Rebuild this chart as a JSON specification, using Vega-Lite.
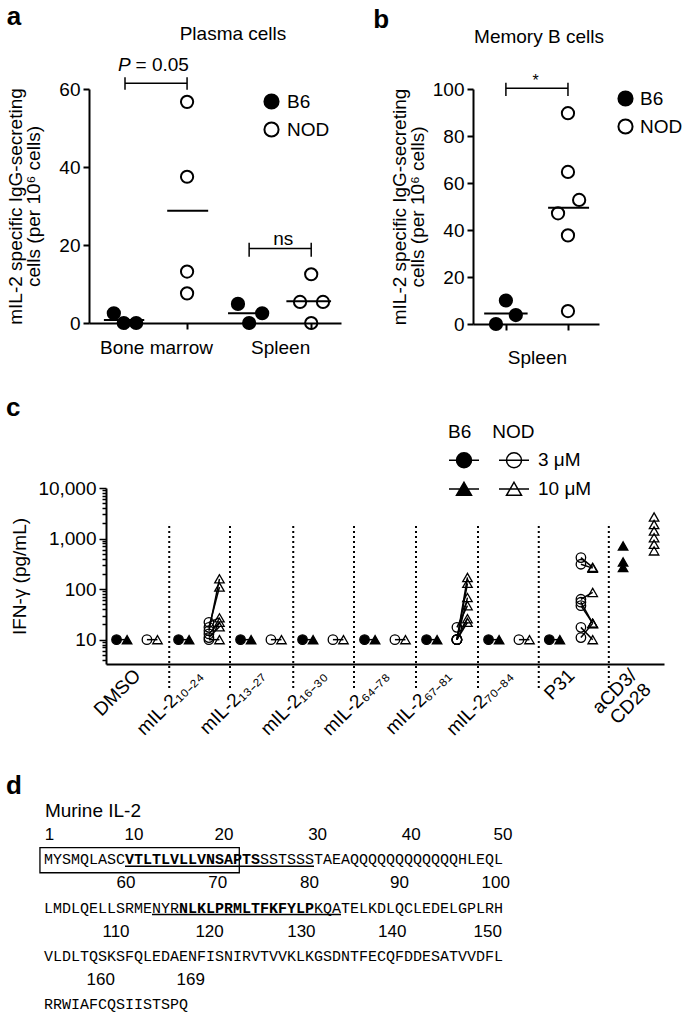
{
  "$schema": "https://vega.github.io/schema/vega-lite/v6.json",
  "background": "white",
  "padding": {"left": 5, "top": 3, "right": 5, "bottom": 2},
  "config": {
    "font": "Liberation Sans",
    "view": {"stroke": null},
    "axis": {"domainColor": "black", "domainWidth": 2, "tickColor": "black", "tickWidth": 2, "labelColor": "black", "titleColor": "black", "labelFontSize": 19, "titleFontSize": 19, "titleFontWeight": "normal", "grid": false, "labelFont": "Liberation Sans", "titleFont": "Liberation Sans"},
    "legend": {"labelFontSize": 19, "titleFontSize": 19, "labelColor": "black", "titleColor": "black", "titleFontWeight": "normal", "labelFont": "Liberation Sans", "titleFont": "Liberation Sans"},
    "title": {"fontSize": 19, "fontWeight": "normal", "color": "black", "font": "Liberation Sans"}
  },
  "datasets": {
    "pa": [
      {"strain": "B6", "x": 0.82, "v": 2.5},
      {"strain": "B6", "x": 0.98, "v": 0},
      {"strain": "B6", "x": 1.18, "v": 0},
      {"strain": "NOD", "x": 2, "v": 56.7},
      {"strain": "NOD", "x": 2, "v": 37.5},
      {"strain": "NOD", "x": 2, "v": 13.2},
      {"strain": "NOD", "x": 2, "v": 7.6},
      {"strain": "B6", "x": 2.82, "v": 4.9},
      {"strain": "B6", "x": 3.0, "v": 0},
      {"strain": "B6", "x": 3.21, "v": 2.5},
      {"strain": "NOD", "x": 3.82, "v": 5.4},
      {"strain": "NOD", "x": 4.0, "v": 12.5},
      {"strain": "NOD", "x": 4.0, "v": 0},
      {"strain": "NOD", "x": 4.19, "v": 5.4}
    ],
    "pa_mean": [
      {"x1": 0.66, "x2": 1.31, "m": 0.8},
      {"x1": 1.68, "x2": 2.34, "m": 28.8},
      {"x1": 2.66, "x2": 3.32, "m": 2.5},
      {"x1": 3.6, "x2": 4.32, "m": 5.6}
    ],
    "pa_br": [
      {"x1": 1, "x2": 2, "y1": 61.5, "y2": 61.5},
      {"x1": 1, "x2": 1, "y1": 59.8, "y2": 63},
      {"x1": 2, "x2": 2, "y1": 59.8, "y2": 63},
      {"x1": 3, "x2": 4, "y1": 19.1, "y2": 19.1},
      {"x1": 3, "x2": 3, "y1": 17, "y2": 20.6},
      {"x1": 4, "x2": 4, "y1": 17, "y2": 20.6}
    ],
    "pa_txt": [
      {"t": "P", "x": 0.99, "y": 64.7, "it": true},
      {"t": "= 0.05", "x": 1.6, "y": 64.7, "it": false},
      {"t": "ns", "x": 3.55, "y": 20, "it": false}
    ],
    "pb": [
      {"strain": "B6", "x": 1.0, "v": 10},
      {"strain": "B6", "x": 0.84, "v": 0},
      {"strain": "B6", "x": 1.16, "v": 3.8},
      {"strain": "NOD", "x": 2, "v": 89.7},
      {"strain": "NOD", "x": 2, "v": 64.7},
      {"strain": "NOD", "x": 2.18, "v": 52.8},
      {"strain": "NOD", "x": 1.84, "v": 47.1},
      {"strain": "NOD", "x": 2, "v": 37.7},
      {"strain": "NOD", "x": 2, "v": 5.5}
    ],
    "pb_mean": [
      {"x1": 0.65, "x2": 1.35, "m": 4.5},
      {"x1": 1.68, "x2": 2.34, "m": 49.5}
    ],
    "pb_br": [
      {"x1": 1, "x2": 2, "y1": 100.3, "y2": 100.3},
      {"x1": 1, "x2": 1, "y1": 97, "y2": 102.7},
      {"x1": 2, "x2": 2, "y1": 97, "y2": 102.7}
    ],
    "pb_txt": [{"t": "*", "x": 1.48, "y": 101.3}],
    "sep": [{"x": 1.52}, {"x": 2.5}, {"x": 3.52}, {"x": 4.5}, {"x": 5.5}, {"x": 6.5}, {"x": 7.48}, {"x": 8.61}],
    "pc": [
      {"s": "B6 3 μM", "x": 0.67, "v": 10, "p": "1B"}, {"s": "B6 10 μM", "x": 0.84, "v": 10, "p": "1B"},
      {"s": "NOD 3 μM", "x": 1.16, "v": 10, "p": "1N"}, {"s": "NOD 10 μM", "x": 1.33, "v": 10, "p": "1N"},
      {"s": "B6 3 μM", "x": 1.67, "v": 10, "p": "2B"}, {"s": "B6 10 μM", "x": 1.84, "v": 10, "p": "2B"},
      {"s": "NOD 3 μM", "x": 2.16, "v": 10, "p": "2N1"}, {"s": "NOD 10 μM", "x": 2.33, "v": 10, "p": "2N1"},
      {"s": "NOD 3 μM", "x": 2.16, "v": 11, "p": "2N2"}, {"s": "NOD 10 μM", "x": 2.33, "v": 18, "p": "2N2"},
      {"s": "NOD 3 μM", "x": 2.16, "v": 15, "p": "2N3"}, {"s": "NOD 10 μM", "x": 2.33, "v": 160, "p": "2N3"},
      {"s": "NOD 3 μM", "x": 2.16, "v": 17.5, "p": "2N4"}, {"s": "NOD 10 μM", "x": 2.33, "v": 110, "p": "2N4"},
      {"s": "NOD 3 μM", "x": 2.16, "v": 22, "p": "2N5"}, {"s": "NOD 10 μM", "x": 2.33, "v": 27, "p": "2N5"},
      {"s": "NOD 3 μM", "x": 2.16, "v": 13, "p": "2N6"}, {"s": "NOD 10 μM", "x": 2.33, "v": 22, "p": "2N6"},
      {"s": "B6 3 μM", "x": 2.67, "v": 10, "p": "3B"}, {"s": "B6 10 μM", "x": 2.84, "v": 10, "p": "3B"},
      {"s": "NOD 3 μM", "x": 3.16, "v": 10, "p": "3N"}, {"s": "NOD 10 μM", "x": 3.33, "v": 10, "p": "3N"},
      {"s": "B6 3 μM", "x": 3.67, "v": 10, "p": "4B"}, {"s": "B6 10 μM", "x": 3.84, "v": 10, "p": "4B"},
      {"s": "NOD 3 μM", "x": 4.16, "v": 10, "p": "4N"}, {"s": "NOD 10 μM", "x": 4.33, "v": 10, "p": "4N"},
      {"s": "B6 3 μM", "x": 4.67, "v": 10, "p": "5B"}, {"s": "B6 10 μM", "x": 4.84, "v": 10, "p": "5B"},
      {"s": "NOD 3 μM", "x": 5.16, "v": 10, "p": "5N"}, {"s": "NOD 10 μM", "x": 5.33, "v": 10, "p": "5N"},
      {"s": "B6 3 μM", "x": 5.67, "v": 10, "p": "6B"}, {"s": "B6 10 μM", "x": 5.84, "v": 10, "p": "6B"},
      {"s": "NOD 3 μM", "x": 6.16, "v": 10, "p": "6N1"}, {"s": "NOD 10 μM", "x": 6.33, "v": 170, "p": "6N1"},
      {"s": "NOD 3 μM", "x": 6.16, "v": 10, "p": "6N2"}, {"s": "NOD 10 μM", "x": 6.33, "v": 130, "p": "6N2"},
      {"s": "NOD 3 μM", "x": 6.16, "v": 10, "p": "6N3"}, {"s": "NOD 10 μM", "x": 6.33, "v": 68, "p": "6N3"},
      {"s": "NOD 3 μM", "x": 6.16, "v": 17.5, "p": "6N4"}, {"s": "NOD 10 μM", "x": 6.33, "v": 47, "p": "6N4"},
      {"s": "NOD 3 μM", "x": 6.16, "v": 10, "p": "6N5"}, {"s": "NOD 10 μM", "x": 6.33, "v": 26, "p": "6N5"},
      {"s": "NOD 3 μM", "x": 6.16, "v": 10, "p": "6N6"}, {"s": "NOD 10 μM", "x": 6.33, "v": 22, "p": "6N6"},
      {"s": "B6 3 μM", "x": 6.67, "v": 10, "p": "7B"}, {"s": "B6 10 μM", "x": 6.84, "v": 10, "p": "7B"},
      {"s": "NOD 3 μM", "x": 7.16, "v": 10, "p": "7N"}, {"s": "NOD 10 μM", "x": 7.33, "v": 10, "p": "7N"},
      {"s": "B6 3 μM", "x": 7.65, "v": 10, "p": "8B"}, {"s": "B6 10 μM", "x": 7.82, "v": 10, "p": "8B"},
      {"s": "NOD 3 μM", "x": 8.16, "v": 420, "p": "8N1"}, {"s": "NOD 10 μM", "x": 8.35, "v": 270, "p": "8N1"},
      {"s": "NOD 3 μM", "x": 8.16, "v": 310, "p": "8N2"}, {"s": "NOD 10 μM", "x": 8.35, "v": 260, "p": "8N2"},
      {"s": "NOD 3 μM", "x": 8.16, "v": 63, "p": "8N3"}, {"s": "NOD 10 μM", "x": 8.35, "v": 86, "p": "8N3"},
      {"s": "NOD 3 μM", "x": 8.16, "v": 55, "p": "8N4"}, {"s": "NOD 10 μM", "x": 8.35, "v": 21, "p": "8N4"},
      {"s": "NOD 3 μM", "x": 8.16, "v": 47, "p": "8N5"}, {"s": "NOD 10 μM", "x": 8.35, "v": 21, "p": "8N5"},
      {"s": "NOD 3 μM", "x": 8.16, "v": 17.5, "p": "8N6"}, {"s": "NOD 10 μM", "x": 8.35, "v": 10, "p": "8N6"},
      {"s": "NOD 3 μM", "x": 8.16, "v": 11, "p": "8N7"}, {"s": "NOD 10 μM", "x": 8.35, "v": 21, "p": "8N7"},
      {"s": "B6 10 μM", "x": 8.84, "v": 714, "p": "9B1"},
      {"s": "B6 10 μM", "x": 8.84, "v": 345, "p": "9B2"},
      {"s": "B6 10 μM", "x": 8.84, "v": 267, "p": "9B3"},
      {"s": "NOD 10 μM", "x": 9.34, "v": 2670, "p": "9N1"},
      {"s": "NOD 10 μM", "x": 9.34, "v": 1900, "p": "9N2"},
      {"s": "NOD 10 μM", "x": 9.34, "v": 1410, "p": "9N3"},
      {"s": "NOD 10 μM", "x": 9.34, "v": 1040, "p": "9N4"},
      {"s": "NOD 10 μM", "x": 9.34, "v": 770, "p": "9N5"},
      {"s": "NOD 10 μM", "x": 9.34, "v": 570, "p": "9N6"}
    ],
    "dd": [
      {"row": 0, "x": 0.1, "t": "Murine IL-2", "k": "head"},
      {"row": 1, "x": 0.6, "t": "1", "k": "num"},
      {"row": 1, "x": 10.0, "t": "10", "k": "num"},
      {"row": 1, "x": 20.0, "t": "20", "k": "num"},
      {"row": 1, "x": 30.4, "t": "30", "k": "num"},
      {"row": 1, "x": 40.8, "t": "40", "k": "num"},
      {"row": 1, "x": 51.0, "t": "50", "k": "num"},
      {"row": 2, "x": 0, "t": "MYSMQLASC", "k": "seq"},
      {"row": 2, "x": 9, "t": "VTLTLVLLVNSAPTS", "k": "bold"},
      {"row": 2, "x": 24, "t": "SSTSSSTAEAQQQQQQQQQQQQHLEQL", "k": "seq"},
      {"row": 3, "x": 9.1, "t": "60", "k": "num"},
      {"row": 3, "x": 19.3, "t": "70", "k": "num"},
      {"row": 3, "x": 29.5, "t": "80", "k": "num"},
      {"row": 3, "x": 39.5, "t": "90", "k": "num"},
      {"row": 3, "x": 50.2, "t": "100", "k": "num"},
      {"row": 4, "x": 0, "t": "LMDLQELLSRMENYR", "k": "seq"},
      {"row": 4, "x": 15, "t": "NLKLPRMLTFKFYLP", "k": "bold"},
      {"row": 4, "x": 30, "t": "KQATELKDLQCLEDELGPLRH", "k": "seq"},
      {"row": 5, "x": 8.0, "t": "110", "k": "num"},
      {"row": 5, "x": 18.4, "t": "120", "k": "num"},
      {"row": 5, "x": 28.6, "t": "130", "k": "num"},
      {"row": 5, "x": 38.7, "t": "140", "k": "num"},
      {"row": 5, "x": 49.3, "t": "150", "k": "num"},
      {"row": 6, "x": 0, "t": "VLDLTQSKSFQLEDAENFISNIRVTVVKLKGSDNTFECQFDDESATVVDFL", "k": "seq"},
      {"row": 7, "x": 6.3, "t": "160", "k": "num"},
      {"row": 7, "x": 16.3, "t": "169", "k": "num"},
      {"row": 8, "x": 0, "t": "RRWIAFCQSIISTSPQ", "k": "seq"}
    ],
    "du": [{"row": 2, "x": 9, "x2": 30}, {"row": 4, "x": 12, "x2": 33}],
    "db": [{"x": -0.45, "x2": 21.7, "y": 1.52, "y2": 2.56}]
  },
  "vconcat": [
    {
      "vconcat": [
        {
          "hconcat": [
            {
              "title": {"text": "a", "anchor": "start", "fontSize": 26, "fontWeight": "bold", "offset": -26, "baseline": "alphabetic"},
              "vconcat": [
                {
                  "title": {"text": "Plasma cells", "frame": "group", "anchor": "middle", "dx": 18, "offset": -3, "baseline": "alphabetic"},
                  "width": 252,
                  "height": 234,
                  "layer": [
                    {
                      "data": {"name": "pa_mean"},
                      "mark": {"type": "rule", "strokeWidth": 2, "color": "black"},
                      "encoding": {
                        "x": {"field": "x1", "type": "quantitative", "scale": {"domain": [0.42, 4.48], "nice": false, "zero": false},
                          "axis": {"values": [1, 1.5, 2, 3, 3.5, 4], "labelExpr": "datum.value == 1.5 ? 'Bone marrow' : datum.value == 3.5 ? 'Spleen' : ''",
                            "tickOpacity": {"condition": {"test": "datum.value == 1.5 || datum.value == 3.5", "value": 0}, "value": 1},
                            "title": null, "tickSize": 6, "labelPadding": 9, "labelAngle": 0, "labelOverlap": false, "labelFlush": false}},
                        "x2": {"field": "x2"},
                        "y": {"field": "m", "type": "quantitative", "scale": {"domain": [0, 60], "nice": false},
                          "axis": {"values": [0, 20, 40, 60], "title": ["mIL-2 specific IgG-secreting", "cells (per 10⁶ cells)"], "tickSize": 6, "labelPadding": 3, "titlePadding": 15, "titleLineHeight": 18}}
                      }
                    },
                    {
                      "data": {"name": "pa"},
                      "mark": {"type": "point", "filled": true, "size": 150, "stroke": "black", "strokeWidth": 2, "opacity": 1},
                      "encoding": {
                        "x": {"field": "x", "type": "quantitative"},
                        "y": {"field": "v", "type": "quantitative"},
                        "fill": {"field": "strain", "type": "nominal", "scale": {"domain": ["B6", "NOD"], "range": ["black", "transparent"]},
                          "legend": {"title": null, "orient": "none", "legendX": 173, "legendY": 3, "symbolType": "circle", "symbolSize": 200, "symbolStrokeColor": "black", "symbolStrokeWidth": 2, "symbolOpacity": 1, "rowPadding": 5, "labelOffset": 6}}
                      }
                    },
                    {
                      "data": {"name": "pa_br"},
                      "mark": {"type": "rule", "strokeWidth": 1.5, "color": "black"},
                      "encoding": {
                        "x": {"field": "x1", "type": "quantitative"}, "x2": {"field": "x2"},
                        "y": {"field": "y1", "type": "quantitative"}, "y2": {"field": "y2"}
                      }
                    },
                    {
                      "data": {"name": "pa_txt"},
                      "transform": [{"filter": "datum.it"}],
                      "mark": {"type": "text", "fontSize": 19, "fontStyle": "italic", "align": "center", "baseline": "alphabetic", "color": "black"},
                      "encoding": {"x": {"field": "x", "type": "quantitative"}, "y": {"field": "y", "type": "quantitative"}, "text": {"field": "t"}}
                    },
                    {
                      "data": {"name": "pa_txt"},
                      "transform": [{"filter": "!datum.it"}],
                      "mark": {"type": "text", "fontSize": 19, "align": "center", "baseline": "alphabetic", "color": "black"},
                      "encoding": {"x": {"field": "x", "type": "quantitative"}, "y": {"field": "y", "type": "quantitative"}, "text": {"field": "t"}}
                    }
                  ]
                }
              ]
            },
            {
              "title": {"text": "b", "anchor": "start", "fontSize": 26, "fontWeight": "bold", "offset": -26, "dx": -17, "baseline": "alphabetic"},
              "vconcat": [
                {
                  "title": {"text": "Memory B cells", "frame": "group", "anchor": "middle", "dx": 3, "offset": 11, "baseline": "alphabetic"},
                  "width": 126,
                  "height": 235,
                  "layer": [
                    {
                      "data": {"name": "pb_mean"},
                      "mark": {"type": "rule", "strokeWidth": 2, "color": "black"},
                      "encoding": {
                        "x": {"field": "x1", "type": "quantitative", "scale": {"domain": [0.47, 2.5], "nice": false, "zero": false},
                          "axis": {"values": [1, 1.5, 2], "labelExpr": "datum.value == 1.5 ? 'Spleen' : ''",
                            "tickOpacity": {"condition": {"test": "datum.value == 1.5", "value": 0}, "value": 1},
                            "title": null, "tickSize": 6, "labelPadding": 18, "labelAngle": 0, "labelOverlap": false, "labelFlush": false}},
                        "x2": {"field": "x2"},
                        "y": {"field": "m", "type": "quantitative", "scale": {"domain": [0, 100], "nice": false},
                          "axis": {"values": [0, 20, 40, 60, 80, 100], "title": ["mIL-2 specific IgG-secreting", "cells (per 10⁶ cells)"], "tickSize": 6, "labelPadding": 3, "titlePadding": 5, "titleLineHeight": 18}}
                      }
                    },
                    {
                      "data": {"name": "pb"},
                      "mark": {"type": "point", "filled": true, "size": 150, "stroke": "black", "strokeWidth": 2, "opacity": 1},
                      "encoding": {
                        "x": {"field": "x", "type": "quantitative"},
                        "y": {"field": "v", "type": "quantitative"},
                        "fill": {"field": "strain", "type": "nominal", "scale": {"domain": ["B6", "NOD"], "range": ["black", "transparent"]},
                          "legend": {"title": null, "orient": "right", "offset": 12, "symbolType": "circle", "symbolSize": 200, "symbolStrokeColor": "black", "symbolStrokeWidth": 2, "symbolOpacity": 1, "rowPadding": 5, "labelOffset": 5}}
                      }
                    },
                    {
                      "data": {"name": "pb_br"},
                      "mark": {"type": "rule", "strokeWidth": 1.5, "color": "black"},
                      "encoding": {
                        "x": {"field": "x1", "type": "quantitative"}, "x2": {"field": "x2"},
                        "y": {"field": "y1", "type": "quantitative"}, "y2": {"field": "y2"}
                      }
                    },
                    {
                      "data": {"name": "pb_txt"},
                      "mark": {"type": "text", "fontSize": 16, "align": "center", "baseline": "alphabetic", "color": "black"},
                      "encoding": {"x": {"field": "x", "type": "quantitative"}, "y": {"field": "y", "type": "quantitative"}, "text": {"field": "t"}}
                    }
                  ]
                }
              ]
            }
          ],
          "spacing": 32
        },
        {
          "title": {"text": "c", "anchor": "start", "fontSize": 26, "fontWeight": "bold", "offset": -19, "dx": -5, "baseline": "alphabetic"},
          "bounds": "flush",
          "spacing": 16,
          "hconcat": [
            {"width": 1, "height": 1, "data": {"values": []}, "mark": "point"},
            {
              "width": 558,
              "height": 176,
              "layer": [
                {
                  "mark": {"type": "rule", "strokeDash": [1.5, 3], "strokeWidth": 1.5, "color": "black"},
                  "encoding": {
                    "y": {"datum": 10, "type": "quantitative", "scale": {"type": "log", "domain": [3.3, 10000], "nice": false},
                      "axis": {"values": [4, 5, 6, 7, 8, 9, 10, 20, 30, 40, 50, 60, 70, 80, 90, 100, 200, 300, 400, 500, 600, 700, 800, 900, 1000, 2000, 3000, 4000, 5000, 6000, 7000, 8000, 9000, 10000],
                        "labelExpr": "datum.value == 10 || datum.value == 100 || datum.value == 1000 || datum.value == 10000 ? format(datum.value, ',') : ''",
                        "tickSize": {"condition": {"test": "datum.value == 10 || datum.value == 100 || datum.value == 1000 || datum.value == 10000", "value": 7}, "value": 4},
                        "tickWidth": 1.5, "labelOverlap": false, "title": "IFN-γ (pg/mL)", "titlePadding": 8, "labelPadding": 3}}
                  }
                },
                {
                  "data": {"name": "sep"},
                  "mark": {"type": "rule", "strokeDash": [2, 3], "strokeWidth": 2, "color": "black"},
                  "encoding": {
                    "x": {"field": "x", "type": "quantitative", "scale": {"domain": [0.5, 9.5], "nice": false, "zero": false},
                      "axis": {"values": [1, 2, 3, 4, 5, 6, 7, 8, 9],
                        "labelExpr": "['', 'DMSO', 'mIL-2₁₀₋₂₄', 'mIL-2₁₃₋₂₇', 'mIL-2₁₆₋₃₀', 'mIL-2₆₄₋₇₈', 'mIL-2₆₇₋₈₁', 'mIL-2₇₀₋₈₄', 'P31', ['aCD3/', 'CD28']][datum.value]",
                        "labelAngle": -45, "labelAlign": "right", "labelBaseline": "middle", "ticks": false, "title": null, "labelPadding": 8, "labelOverlap": false, "labelFlush": false, "labelBound": false, "labelLineHeight": 20}},
                    "y": {"datum": 1780, "type": "quantitative"},
                    "y2": {"datum": 1}
                  }
                },
                {
                  "data": {"name": "pc"},
                  "mark": {"type": "line", "strokeWidth": 1.5, "color": "black"},
                  "encoding": {
                    "x": {"field": "x", "type": "quantitative"},
                    "y": {"field": "v", "type": "quantitative"},
                    "detail": {"field": "p"}
                  }
                },
                {
                  "data": {"name": "pc"},
                  "mark": {"type": "point", "filled": true, "size": 90, "stroke": "black", "strokeWidth": 1.3, "opacity": 1},
                  "encoding": {
                    "x": {"field": "x", "type": "quantitative"},
                    "y": {"field": "v", "type": "quantitative"},
                    "shape": {"field": "s", "type": "nominal", "scale": {"domain": ["B6 3 μM", "B6 10 μM", "NOD 3 μM", "NOD 10 μM"], "range": ["circle", "triangle-up", "circle", "triangle-up"]}, "legend": null},
                    "fill": {"field": "s", "type": "nominal", "scale": {"domain": ["B6 3 μM", "B6 10 μM", "NOD 3 μM", "NOD 10 μM"], "range": ["black", "black", "transparent", "transparent"]}, "legend": null}
                  }
                },
                {
                  "data": {"name": "pc"},
                  "mark": {"type": "point", "filled": true, "opacity": 0},
                  "encoding": {
                    "x": {"field": "x", "type": "quantitative"},
                    "y": {"field": "v", "type": "quantitative"},
                    "shape": {"field": "s", "type": "nominal",
                      "scale": {"domain": ["B6 3 μM", "NOD 3 μM", "B6 10 μM", "NOD 10 μM"],
                        "range": ["M-1,0L1,0M-0.5,0A0.5,0.5,0,1,1,0.5,0A0.5,0.5,0,1,1,-0.5,0Z", "M-1,0L1,0M-0.5,0A0.5,0.5,0,1,1,0.5,0A0.5,0.5,0,1,1,-0.5,0Z", "M-1,0L1,0M0,-0.45L0.5,0.42L-0.5,0.42Z", "M-1,0L1,0M0,-0.45L0.5,0.42L-0.5,0.42Z"]},
                      "legend": {"orient": "none", "legendX": 342, "legendY": -65, "columns": 2, "direction": "horizontal",
                        "title": "\u00a0B6\u00a0\u00a0\u00a0\u00a0NOD", "titleAnchor": "start", "titlePadding": 2,
                        "labelExpr": "datum.label == 'NOD 3 μM' ? '3 μM' : datum.label == 'NOD 10 μM' ? '10 μM' : ''",
                        "symbolSize": 900, "symbolStrokeColor": "black", "symbolStrokeWidth": 1.5, "symbolOpacity": 1,
                        "labelOffset": 8, "columnPadding": 8, "rowPadding": 2}},
                    "fill": {"field": "s", "type": "nominal",
                      "scale": {"domain": ["B6 3 μM", "NOD 3 μM", "B6 10 μM", "NOD 10 μM"], "range": ["black", "transparent", "black", "transparent"]},
                      "legend": {"orient": "none", "legendX": 342, "legendY": -65, "columns": 2, "direction": "horizontal",
                        "title": "\u00a0B6\u00a0\u00a0\u00a0\u00a0NOD", "titleAnchor": "start", "titlePadding": 2,
                        "labelExpr": "datum.label == 'NOD 3 μM' ? '3 μM' : datum.label == 'NOD 10 μM' ? '10 μM' : ''",
                        "symbolSize": 900, "symbolStrokeColor": "black", "symbolStrokeWidth": 1.5, "symbolOpacity": 1,
                        "labelOffset": 8, "columnPadding": 8, "rowPadding": 2}},
                    "stroke": {"field": "s", "type": "nominal",
                      "scale": {"domain": ["B6 3 μM", "NOD 3 μM", "B6 10 μM", "NOD 10 μM"], "range": ["black", "black", "black", "black"]},
                      "legend": {"orient": "none", "legendX": 342, "legendY": -65, "columns": 2, "direction": "horizontal",
                        "title": "\u00a0B6\u00a0\u00a0\u00a0\u00a0NOD", "titleAnchor": "start", "titlePadding": 2,
                        "labelExpr": "datum.label == 'NOD 3 μM' ? '3 μM' : datum.label == 'NOD 10 μM' ? '10 μM' : ''",
                        "symbolSize": 900, "symbolStrokeColor": "black", "symbolStrokeWidth": 1.5, "symbolOpacity": 1,
                        "labelOffset": 8, "columnPadding": 8, "rowPadding": 2}}
                  }
                }
              ],
              "resolve": {"scale": {"shape": "independent", "fill": "independent", "stroke": "independent"}}
            }
          ]
        }
      ],
      "spacing": 28
    },
    {
      "title": {"text": "d", "anchor": "start", "frame": "group", "fontSize": 26, "fontWeight": "bold", "offset": -18, "dx": -83, "baseline": "alphabetic"},
      "width": 414,
      "height": 193,
      "layer": [
        {
          "data": {"name": "db"},
          "mark": {"type": "rect", "fill": "transparent", "stroke": "black", "strokeWidth": 1.3},
          "encoding": {
            "x": {"field": "x", "type": "quantitative", "scale": {"domain": [5, 51], "nice": false, "zero": false}, "axis": null},
            "x2": {"field": "x2"},
            "y": {"field": "y", "type": "quantitative", "scale": {"domain": [0, 8], "reverse": true, "nice": false, "zero": false}, "axis": null},
            "y2": {"field": "y2"}
          }
        },
        {
          "data": {"name": "du"},
          "mark": {"type": "rule", "strokeWidth": 1.3, "color": "black", "yOffset": 7},
          "encoding": {
            "x": {"field": "x", "type": "quantitative"},
            "x2": {"field": "x2"},
            "y": {"field": "row", "type": "quantitative"}
          }
        },
        {
          "data": {"name": "dd"},
          "transform": [{"filter": "datum.k == 'head'"}],
          "mark": {"type": "text", "fontSize": 19, "align": "left", "baseline": "middle", "color": "black"},
          "encoding": {"x": {"field": "x", "type": "quantitative"}, "y": {"field": "row", "type": "quantitative"}, "text": {"field": "t"}}
        },
        {
          "data": {"name": "dd"},
          "transform": [{"filter": "datum.k == 'num'"}],
          "mark": {"type": "text", "fontSize": 17, "align": "center", "baseline": "middle", "color": "black"},
          "encoding": {"x": {"field": "x", "type": "quantitative"}, "y": {"field": "row", "type": "quantitative"}, "text": {"field": "t"}}
        },
        {
          "data": {"name": "dd"},
          "transform": [{"filter": "datum.k == 'seq'"}],
          "mark": {"type": "text", "font": "Liberation Mono", "fontSize": 15, "align": "left", "baseline": "middle", "color": "black"},
          "encoding": {"x": {"field": "x", "type": "quantitative"}, "y": {"field": "row", "type": "quantitative"}, "text": {"field": "t"}}
        },
        {
          "data": {"name": "dd"},
          "transform": [{"filter": "datum.k == 'bold'"}],
          "mark": {"type": "text", "font": "Liberation Mono", "fontSize": 15, "fontWeight": "bold", "align": "left", "baseline": "middle", "color": "black"},
          "encoding": {"x": {"field": "x", "type": "quantitative"}, "y": {"field": "row", "type": "quantitative"}, "text": {"field": "t"}}
        }
      ]
    }
  ],
  "spacing": 34
}
